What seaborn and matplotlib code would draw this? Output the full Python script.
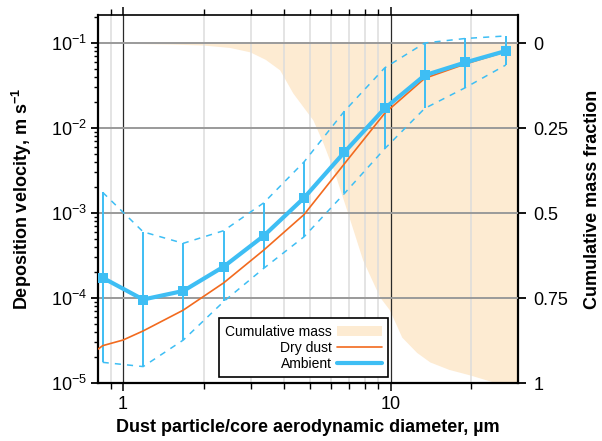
import numpy as np
import pandas as pd
import matplotlib
matplotlib.use("Agg")
import matplotlib.pyplot as plt
import seaborn as sns
from matplotlib.ticker import LogLocator, NullFormatter
from matplotlib.patches import Patch
from matplotlib.lines import Line2D

# ---------------- data ----------------
diameter = [0.84, 1.19, 1.68, 2.38, 3.36, 4.75, 6.72, 9.5, 13.4, 19.0, 26.9]
ambient = [1.73e-4, 9.6e-5, 1.21e-4, 2.34e-4, 5.4e-4, 1.51e-3, 5.2e-3, 1.7e-2, 4.17e-2, 5.9e-2, 8.05e-2]
ambient_upper = [1.75e-3, 6.0e-4, 4.4e-4, 6.2e-4, 1.32e-3, 4.0e-3, 1.58e-2, 5.1e-2, 1.0e-1, 1.13e-1, 1.21e-1]
ambient_lower = [1.75e-5, 1.56e-5, 3.2e-5, 9.1e-5, 2.24e-4, 5.26e-4, 1.7e-3, 5.7e-3, 1.7e-2, 2.98e-2, 5.5e-2]

dry_diameter = [0.8, 0.84, 1.0, 1.19, 1.68, 2.38, 3.36, 4.75, 6.72, 9.5, 13.4, 19.0, 26.9]
dry_dust = [2.45e-5, 2.75e-5, 3.2e-5, 4.1e-5, 7.2e-5, 1.51e-4, 3.67e-4, 9.6e-4, 3.8e-3, 1.49e-2, 3.84e-2, 5.66e-2, 7.9e-2]

mass_diameter = [0.8, 1.0, 1.5, 1.99, 2.5, 2.98, 3.4, 3.85, 4.31, 5.12, 5.57, 6.17, 6.89, 7.86,
                 9.1, 9.9, 11.0, 12.5, 14.0, 16.5, 19.7, 24.9, 30.0]
mass_fraction = [0.0, 0.001, 0.003, 0.006, 0.013, 0.026, 0.048, 0.079, 0.147, 0.226, 0.291, 0.382,
                 0.497, 0.638, 0.747, 0.785, 0.865, 0.91, 0.938, 0.96, 0.976, 1.0, 1.0]

y_ticks = [1e-5, 1e-4, 1e-3, 1e-2, 1e-1]
y_tick_labels = ["10$^{-5}$", "10$^{-4}$", "10$^{-3}$", "10$^{-2}$", "10$^{-1}$"]
x_ticks = [1, 10]
x_tick_labels = ["1", "10"]
frac_ticks = [0, 0.25, 0.5, 0.75, 1]
frac_tick_labels = ["0", "0.25", "0.5", "0.75", "1"]

legend_labels = ["Cumulative mass", "Dry dust", "Ambient"]

# ---------------- style ----------------
sns.set_style("ticks")
plt.rcParams["font.family"] = ["Liberation Sans", "DejaVu Sans"]
plt.rcParams["mathtext.fontset"] = "custom"
plt.rcParams["mathtext.rm"] = "Liberation Sans"
plt.rcParams["mathtext.bf"] = "Liberation Sans:bold"
plt.rcParams["mathtext.it"] = "Liberation Sans:italic"
for k in ["text.color", "axes.labelcolor", "xtick.color", "ytick.color", "axes.edgecolor"]:
    plt.rcParams[k] = "black"

BLUE = "#3EBEF4"
ORANGE = "#F26A1E"
FILL = "#FDEBD2"

fig = plt.figure(figsize=(6.02, 4.41), dpi=100)
ax = fig.add_axes([0.1628, 0.1315, 0.6977, 0.8345])
ax2 = ax.twinx()

# cumulative mass on twin axis (behind)
ax2.fill_between(mass_diameter, 0, mass_fraction, color=FILL, lw=0, zorder=1)
ax2.set_ylim(1.0, -0.0824)
ax2.set_yticks(frac_ticks)
ax2.set_yticklabels(frac_tick_labels, fontsize=13)
ax2.set_ylabel("Cumulative mass fraction", fontsize=13, fontweight="bold", labelpad=11)
ax2.tick_params(axis="y", direction="out", length=6, width=1.3, pad=5, colors="black")

ax.set_zorder(ax2.get_zorder() + 1)
ax.patch.set_visible(False)

ax.set_xscale("log")
ax.set_yscale("log")

df_amb = pd.DataFrame({"d": diameter, "v": ambient, "lo": ambient_lower, "hi": ambient_upper})
df_dry = pd.DataFrame({"d": dry_diameter, "v": dry_dust})

# envelopes (dashed)
sns.lineplot(data=df_amb, x="d", y="hi", ax=ax, color=BLUE, lw=1.1,
             linestyle=(0, (4, 4)), estimator=None, sort=False, zorder=3)
sns.lineplot(data=df_amb, x="d", y="lo", ax=ax, color=BLUE, lw=1.1,
             linestyle=(0, (4, 4)), estimator=None, sort=False, zorder=3)
# error bars
ax.vlines(df_amb["d"], df_amb["lo"], df_amb["hi"], color=BLUE, lw=1.4, zorder=3)
# dry dust
sns.lineplot(data=df_dry, x="d", y="v", ax=ax, color=ORANGE, lw=1.2,
             estimator=None, sort=False, zorder=4)
# ambient
sns.lineplot(data=df_amb, x="d", y="v", ax=ax, color=BLUE, lw=3.0, marker="s",
             markersize=7.5, markeredgewidth=0, estimator=None, sort=False, zorder=5)

ax.set_xlim(0.807, 29.9)
ax.set_ylim(1e-5, 0.2135)

ax.set_yticks(y_ticks)
ax.set_yticklabels(y_tick_labels, fontsize=13)
ax.yaxis.set_minor_locator(LogLocator(base=10, subs=np.arange(2, 10), numticks=20))
ax.yaxis.set_minor_formatter(NullFormatter())
ax.set_xticks(x_ticks)
ax.set_xticklabels(x_tick_labels, fontsize=13)
ax.xaxis.set_minor_locator(LogLocator(base=10, subs=np.arange(2, 10), numticks=20))
ax.xaxis.set_minor_formatter(NullFormatter())

ax.grid(which="major", axis="y", color="#9a9a9a", lw=1.4, zorder=0)
ax.grid(which="minor", axis="x", color="#dcdcdc", lw=1.1, zorder=0)
ax.grid(which="major", axis="x", color="#2a2a2a", lw=0.9, zorder=0)
ax.set_axisbelow(True)

ax.tick_params(axis="x", which="major", direction="out", length=6, width=1.1, top=True,
               labeltop=False, pad=3)
ax.tick_params(axis="x", which="minor", direction="out", length=4, width=1.0, top=True)
ax.tick_params(axis="y", which="major", direction="out", length=5, width=1.3, right=False, pad=3)
ax.tick_params(axis="y", which="minor", direction="out", length=3, width=1.0, right=False)

for s in ["left", "bottom", "right"]:
    ax.spines[s].set_linewidth(1.6)
    ax.spines[s].set_color("black")
ax.spines["top"].set_linewidth(1.2)
ax.spines["top"].set_color("black")
ax.spines["right"].set_visible(False)
for s in ["left", "bottom", "top"]:
    ax2.spines[s].set_visible(False)
ax2.spines["right"].set_linewidth(1.6)
ax2.spines["right"].set_color("black")

ax.set_xlabel("Dust particle/core aerodynamic diameter, µm", fontsize=13,
              fontweight="bold", labelpad=5)
ax.set_ylabel("Deposition velocity, m s$^{\\mathbf{-1}}$", fontsize=13,
              fontweight="bold", labelpad=12)

handles = [Patch(facecolor=FILL, edgecolor="none"),
           Line2D([], [], color=ORANGE, lw=1.2),
           Line2D([], [], color=BLUE, lw=3.0)]
leg = ax.legend(handles, legend_labels, loc="lower right", bbox_to_anchor=(0.690, 0.016),
                markerfirst=False, frameon=True, fancybox=False, fontsize=10,
                handlelength=3.2, handletextpad=0.4, labelspacing=0.15,
                borderpad=0.45, borderaxespad=0)
leg.get_frame().set_edgecolor("black")
leg.get_frame().set_linewidth(1.2)
leg.get_frame().set_alpha(1)
leg.set_zorder(10)

fig.savefig("out.png", dpi=100)
